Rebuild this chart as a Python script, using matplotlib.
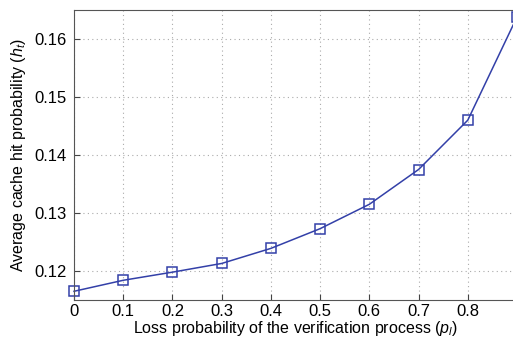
import numpy as np
import matplotlib
matplotlib.use('Agg')
import matplotlib.pyplot as plt

# Values
loss_prob = [0.0, 0.1, 0.2, 0.3, 0.4, 0.5, 0.6, 0.7, 0.8, 0.9]
hit_prob = [0.1165, 0.1184, 0.1198, 0.1213, 0.1239, 0.1273, 0.1315, 0.1375, 0.1460, 0.1638]
x_ticks = [0, 0.1, 0.2, 0.3, 0.4, 0.5, 0.6, 0.7, 0.8]
y_ticks = [0.12, 0.13, 0.14, 0.15, 0.16]

plt.rcParams['font.family'] = ['Liberation Sans', 'DejaVu Sans']
plt.rcParams['mathtext.fontset'] = 'custom'
plt.rcParams['mathtext.it'] = 'Liberation Sans:italic'
plt.rcParams['mathtext.rm'] = 'Liberation Sans'

fig = plt.figure(figsize=(5.13, 3.37), dpi=100)
ax = fig.add_axes([74 / 513, 37 / 337, 443 / 513, 290 / 337])

ax.plot(loss_prob, hit_prob, color='#3340a8', linewidth=1.1,
        marker='s', markersize=6.5, markerfacecolor='none',
        markeredgecolor='#3340a8', markeredgewidth=1.1, clip_on=False)

ax.set_xlim(0, 0.9)
ax.set_ylim(0.115, 0.165)
ax.set_xticks(x_ticks)
ax.set_xticklabels([f'{t:g}' for t in x_ticks])
ax.set_yticks(y_ticks)
ax.set_yticklabels([f'{t:.2f}' for t in y_ticks])

ax.grid(True, linestyle=(0, (1, 3)), color='#aaaaaa', linewidth=0.8)
ax.tick_params(direction='in', labelsize=12, length=4, color='#444444', pad=5)
ax.tick_params(axis='x', pad=3)
for s in ax.spines.values():
    s.set_color('#555555')

ax.set_xlabel('Loss probability of the verification process ($p_l$)', fontsize=11.5, labelpad=0)
ax.set_ylabel('Average cache hit probability ($h_t$)', fontsize=11.5, labelpad=5)

fig.savefig('out.png', dpi=100)
